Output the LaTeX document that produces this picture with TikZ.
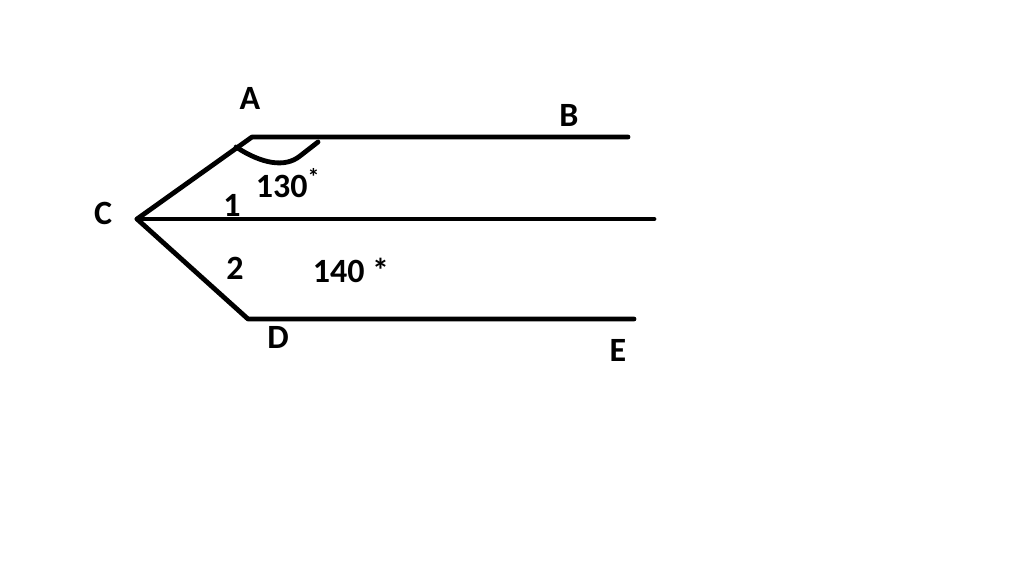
\documentclass[tikz,border=0pt]{standalone}
\usepackage{fontspec}
\setmainfont{Carlito}
\begin{document}
\begin{tikzpicture}[x=0.75pt,y=-0.75pt,
  seg/.style={line width=3.6pt,line cap=round,line join=round},
  lab/.style={font=\bfseries\fontsize{25.5}{28}\selectfont,inner sep=0pt}]
\useasboundingbox[fill=white] (0,0) rectangle (1024,575);
\coordinate (A) at (252,137);
\coordinate (B) at (628,137);
\coordinate (C) at (137,219);
\coordinate (Cr) at (654,219);
\coordinate (D) at (248,319);
\coordinate (E) at (634,319);
\coordinate (p1) at (236,147);
\coordinate (p2) at (318,142);
\draw[seg] (B) -- (A) -- (C) -- (D) -- (E);
\draw[seg] (C) -- (Cr);
\draw[seg] (p1) .. controls (262,164) and (285,168) .. (300,156) -- (p2);
\node[lab] (lA) at (250,98) {A};
\node[lab] (lB) at (569,115) {B};
\node[lab] (lC) at (103,213) {C};
\node[lab] (l1) at (232,205) {1};
\node[lab] (l130) at (288,183) {130\textsuperscript{*}};
\node[lab] (l2) at (235,268) {2};
\node[lab] (l140) at (351,270) {140 *};
\node[lab] (lD) at (278,337) {D};
\node[lab] (lE) at (618,350) {E};
\end{tikzpicture}
\end{document}
